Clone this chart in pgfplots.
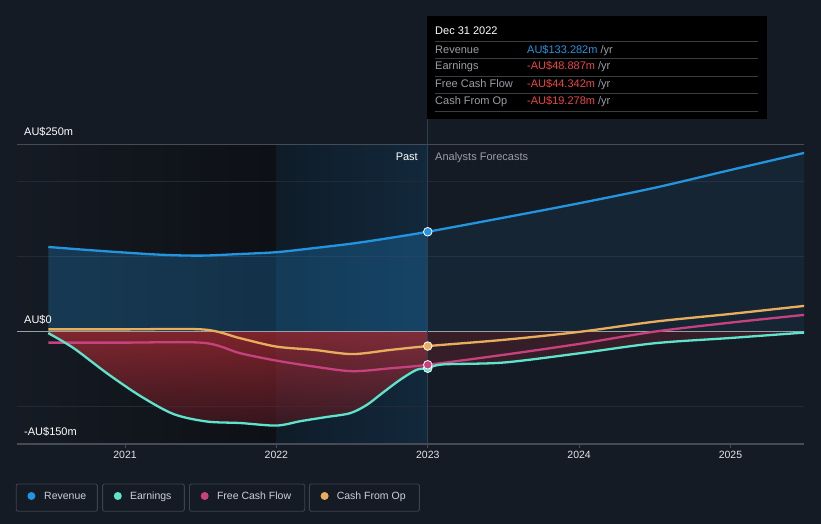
\documentclass[border=0pt]{standalone}
\usepackage{fontspec}
\setmainfont{Liberation Sans}
\usepackage{pgfplots}
\pgfplotsset{compat=1.18}
\definecolor{bg}{HTML}{151B24}
\definecolor{pastdark}{HTML}{0D1015}
\definecolor{blueA}{HTML}{0F1C28}
\definecolor{blueB}{HTML}{12283C}
\definecolor{gridc}{HTML}{232A35}
\definecolor{axisgray}{HTML}{464C56}
\definecolor{zeroc}{HTML}{9A9EA5}
\definecolor{ticktext}{HTML}{E2E4E8}
\definecolor{revc}{HTML}{2394DF}
\definecolor{earnc}{HTML}{5EE3CC}
\definecolor{fcfc}{HTML}{C8417F}
\definecolor{cfoc}{HTML}{E8AE5C}
\definecolor{negred}{HTML}{D8303C}
\definecolor{negtop}{HTML}{C8303A}
\definecolor{negbot}{HTML}{501820}
\definecolor{valred}{HTML}{EB4646}
\definecolor{lblgray}{HTML}{9A9EA5}
\definecolor{sepc}{HTML}{3A3D42}
\definecolor{legborder}{HTML}{3D434E}
\definecolor{legtext}{HTML}{CDD0D5}
\definecolor{vline}{HTML}{2B4058}
\begin{document}
\begin{tikzpicture}[x=1pt,y=1pt]
\fill[bg] (0,0) rectangle (821,524);
\begin{axis}[
  at={(16.8pt,80pt)}, anchor=south west,
  scale only axis, width=787.4pt, height=299.7pt,
  xmin=2020.285, xmax=2025.487, ymin=-150, ymax=250,
  axis line style={draw=none},
  ytick=\empty,
  xtick={2021,2022,2023,2024,2025},
  xticklabels={2021,2022,2023,2024,2025},
  xtick pos=left, tick align=outside,
  major tick length=4pt,
  tick style={axisgray, line width=0.8pt},
  xticklabel style={text=ticktext, font=\fontsize{10.5}{12}\selectfont},
  clip=true,
]
\fill[left color=bg, right color=pastdark] (axis cs:2020.285,-150) rectangle (axis cs:2022,250);
\fill[left color=blueA, right color=blueB] (axis cs:2022,-150) rectangle (axis cs:2023,250);
\draw[gridc, line width=1pt] (axis cs:2020.285,200) -- (axis cs:2025.487,200);
\draw[gridc, line width=1pt] (axis cs:2020.285,100) -- (axis cs:2025.487,100);
\draw[gridc, line width=1pt] (axis cs:2020.285,-100) -- (axis cs:2025.487,-100);

% revenue area (past / forecast)
\addplot[fill=revc, fill opacity=0.26, draw=none, smooth] coordinates {
(2020.493,113) (2020.75,109) (2021.0,105.5) (2021.25,102.5) (2021.5,101.4)
(2021.75,103.5) (2022.0,106) (2022.25,111.5) (2022.5,117.5) (2022.75,125)
(2023.0,133.3)} \closedcycle;
\addplot[fill=revc, fill opacity=0.09, draw=none, smooth] coordinates {
(2023.0,133.3) (2023.5,152) (2024.0,171.3) (2024.5,192) (2025.0,215.7) (2025.487,238.5)} \closedcycle;

% negative area (past / forecast)
\addplot[top color=negtop, bottom color=negbot, fill opacity=0.6, draw=none, smooth] coordinates {
(2020.493,-2) (2020.66,-22) (2020.88,-55.5) (2021.1,-85.8) (2021.32,-110)
(2021.54,-120) (2021.76,-122) (2022.0,-125.4) (2022.16,-119.5) (2022.33,-114)
(2022.485,-109) (2022.596,-98) (2022.70,-82) (2022.816,-64.5) (2022.926,-51)
(2023.0,-48.9)} \closedcycle;
\addplot[fill=negred, fill opacity=0.17, draw=none, smooth] coordinates {
(2023.0,-48.9) (2023.1,-43.8) (2023.5,-41.3) (2024.0,-29) (2024.5,-15.5) (2025.0,-8.5) (2025.487,-1.3)} \closedcycle;

\draw[zeroc, line width=1.3pt] (axis cs:2020.285,0) -- (axis cs:2025.487,0);
\draw[vline, line width=1pt] (axis cs:2023,-150) -- (axis cs:2023,250);

\addplot[revc, line width=2.3pt, smooth] coordinates {
(2020.493,113) (2020.75,109) (2021.0,105.5) (2021.25,102.5) (2021.5,101.4)
(2021.75,103.5) (2022.0,106) (2022.25,111.5) (2022.5,117.5) (2022.75,125)
(2023.0,133.3) (2023.5,152) (2024.0,171.3) (2024.5,192) (2025.0,215.7) (2025.487,238.5)};

\addplot[cfoc, line width=2.3pt, smooth] coordinates {
(2020.493,3) (2021.0,3) (2021.52,2.8) (2021.76,-8.8) (2022.0,-20) (2022.25,-24.4)
(2022.5,-30) (2022.75,-24.5) (2023.0,-19.3) (2023.5,-11) (2024.0,-0.4)
(2024.5,13.3) (2025.0,23.6) (2025.487,34.3)};

\addplot[fcfc, line width=2.3pt, smooth] coordinates {
(2020.493,-14.7) (2021.0,-14.7) (2021.52,-15) (2021.76,-28.8) (2022.0,-38.7)
(2022.25,-46.7) (2022.5,-52.8) (2022.75,-49) (2023.0,-44.3) (2023.5,-31)
(2024.0,-16.4) (2024.5,0) (2025.0,12) (2025.487,22.3)};

\addplot[earnc, line width=2.3pt, smooth] coordinates {
(2020.493,-2) (2020.66,-22) (2020.88,-55.5) (2021.1,-85.8) (2021.32,-110)
(2021.54,-120) (2021.76,-122) (2022.0,-125.4) (2022.16,-119.5) (2022.33,-114)
(2022.485,-109) (2022.596,-98) (2022.70,-82) (2022.816,-64.5) (2022.926,-51)
(2023.0,-48.9) (2023.1,-43.8) (2023.5,-41.3) (2024.0,-29) (2024.5,-15.5) (2025.0,-8.5) (2025.487,-1.3)};

\addplot[only marks, mark=*, mark size=4.3pt, mark options={fill=revc, draw=white, line width=0.8pt}] coordinates {(2023,133.282)};
\addplot[only marks, mark=*, mark size=4.3pt, mark options={fill=cfoc, draw=white, line width=0.8pt}] coordinates {(2023,-19.278)};
\addplot[only marks, mark=*, mark size=4.3pt, mark options={fill=earnc, draw=white, line width=0.8pt}] coordinates {(2023,-48.887)};
\addplot[only marks, mark=*, mark size=4.3pt, mark options={fill=fcfc, draw=white, line width=0.8pt}] coordinates {(2023,-44.342)};
\end{axis}

% frame lines
\draw[axisgray, line width=1.2pt] (16.8,80) -- (804.2,80);
\draw[axisgray, line width=1.2pt] (16.8,379.7) -- (804.2,379.7);
\draw[vline, line width=1pt] (427.2,379.7) -- (427.2,405);

% axis labels
\begin{scope}[every node/.style={font=\fontsize{11}{13}\selectfont, inner sep=0pt}]
\node[anchor=base west, text=white] at (24,388) {AU\$250m};
\node[anchor=base west, text=white] at (24,200) {AU\$0};
\node[anchor=base west, text=white] at (24,88) {-AU\$150m};
\node[anchor=base east, text=white] at (418,363.5) {Past};
\node[anchor=base west, text=lblgray] at (435,363.5) {Analysts Forecasts};
\end{scope}

% tooltip
\fill[black] (427,405) rectangle (767,508);
\foreach \yy in {41.7,58.3,76,93.3,111} {\draw[sepc, line width=0.8pt] (435,524-\yy) -- (758,524-\yy);}
\begin{scope}[every node/.style={font=\fontsize{11}{13}\selectfont, inner sep=0pt, anchor=base west}]
\node[text=white] at (435,489) {Dec 31 2022};
\node[text=lblgray] at (435,470.7) {Revenue};
\node[text=lblgray] at (435,454) {Earnings};
\node[text=lblgray] at (435,436.7) {Free Cash Flow};
\node[text=lblgray] at (435,419.3) {Cash From Op};
\node at (527,470.7) {\textcolor{revc}{AU\$133.282m}\textcolor{lblgray}{\ /yr}};
\node at (527,454) {\textcolor{valred}{-AU\$48.887m}\textcolor{lblgray}{\ /yr}};
\node at (527,436.7) {\textcolor{valred}{-AU\$44.342m}\textcolor{lblgray}{\ /yr}};
\node at (527,419.3) {\textcolor{valred}{-AU\$19.278m}\textcolor{lblgray}{\ /yr}};
\end{scope}

% legend
\begin{scope}[every node/.style={font=\fontsize{10.5}{12}\selectfont, inner sep=0pt, anchor=base west, text=legtext}]
\draw[legborder, line width=0.9pt, rounded corners=2pt] (16.2,12.7) rectangle (97.4,40);
\fill[revc] (31.4,28) circle (4pt);
\node at (44,24.2) {Revenue};
\draw[legborder, line width=0.9pt, rounded corners=2pt] (102.6,12.7) rectangle (184.3,40);
\fill[earnc] (117.8,28) circle (4pt);
\node at (129.8,24.2) {Earnings};
\draw[legborder, line width=0.9pt, rounded corners=2pt] (189.5,12.7) rectangle (304.7,40);
\fill[fcfc] (204.7,28) circle (4pt);
\node at (216.8,24.2) {Free Cash Flow};
\draw[legborder, line width=0.9pt, rounded corners=2pt] (309.4,12.7) rectangle (419.4,40);
\fill[cfoc] (324.6,28) circle (4pt);
\node at (336.6,24.2) {Cash From Op};
\end{scope}
\end{tikzpicture}
\end{document}
